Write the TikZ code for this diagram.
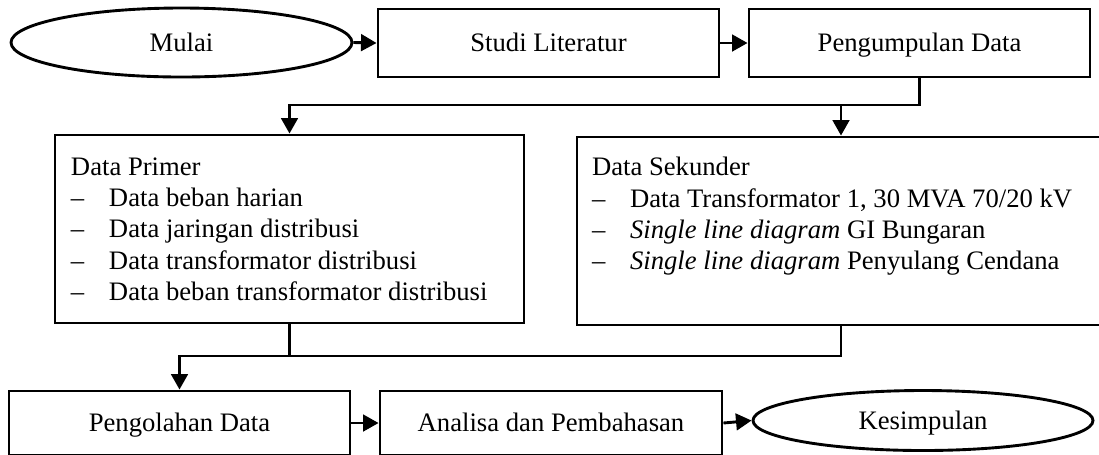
\documentclass[tikz,border=0pt]{standalone}
\usepackage{fontspec}
\setmainfont{Liberation Serif}
\usetikzlibrary{arrows.meta,positioning,shapes.geometric}

\begin{document}
\begin{tikzpicture}[
  x=0.45pt,y=-0.45pt,
  every node/.style={font=\fontsize{12}{14.1}\selectfont},
  stepbox/.style={draw=black,line width=1.3pt,inner sep=0pt,align=center,text height=8pt,text depth=0pt},
  termnode/.style={ellipse,draw=black,line width=1.3pt,inner sep=0pt,text height=8pt,text depth=0pt},
  listtxt/.style={inner sep=0pt,align=left},
  flow/.style={line width=1.3pt,-{Triangle[length=7pt,width=7.5pt]}},
  link/.style={line width=1.3pt}
]
\newcommand{\itm}{\makebox[17.1pt][l]{--}}
\useasboundingbox (0,0) rectangle (1099,454);
\clip (0,0) rectangle (1099,454);
% Top row
\node[termnode,minimum width=153.45pt,minimum height=31.05pt] (mulai) at (181.5,42.5) {Mulai};
\node[stepbox,minimum width=153.45pt,minimum height=30.6pt] (studi) at (548.5,43) {Studi Literatur};
\node[stepbox,minimum width=153.45pt,minimum height=30.6pt] (kumpul) at (919.5,43) {Pengumpulan Data};
% Middle row: data boxes
\node[stepbox,minimum width=211.05pt,minimum height=84.6pt] (primer) at (289.5,229) {};
\node[stepbox,minimum width=237.6pt,minimum height=84.6pt] (sekunder) at (841,231) {};
\node[listtxt,anchor=north west,below right=10.5pt and 7.65pt of primer.north west] (primtxt)
  {Data Primer\\
   \itm Data beban harian\\
   \itm Data jaringan distribusi\\
   \itm Data transformator distribusi\\
   \itm Data beban transformator distribusi};
\node[listtxt,anchor=north west,below right=9.6pt and 7.2pt of sekunder.north west] (sektxt)
  {Data Sekunder\\
   \itm Data Transformator 1, 30 MVA 70/20 kV\\
   \itm \textit{Single line diagram} GI Bungaran\\
   \itm \textit{Single line diagram} Penyulang Cendana};
% Bottom row
\node[stepbox,minimum width=153.45pt,minimum height=28.8pt] (olah) at (179.5,423) {Pengolahan Data};
\node[stepbox,minimum width=153.9pt,minimum height=28.8pt] (analisa) at (551,423) {Analisa dan Pembahasan};
\node[termnode,minimum width=153pt,minimum height=27pt] (simpul) at (923,420.5) {Kesimpulan};
% Connectors
\coordinate (split) at (0,105);
\coordinate (merge) at (0,356);
\draw[flow] (mulai.east) -- (studi.west);
\draw[flow] (studi.east) -- (kumpul.west);
\draw[flow] (kumpul.south) -- (kumpul.south |- split) -| (primer.north);
\draw[flow] (sekunder.north |- split) -- (sekunder.north);
\draw[link] (primer.south) -- (primer.south |- merge);
\draw[flow] (sekunder.south) -- (sekunder.south |- merge) -| (olah.north);
\draw[flow] (olah.east) -- (analisa.west);
\draw[flow] (analisa.east) -- (simpul.west);
\end{tikzpicture}
\end{document}
